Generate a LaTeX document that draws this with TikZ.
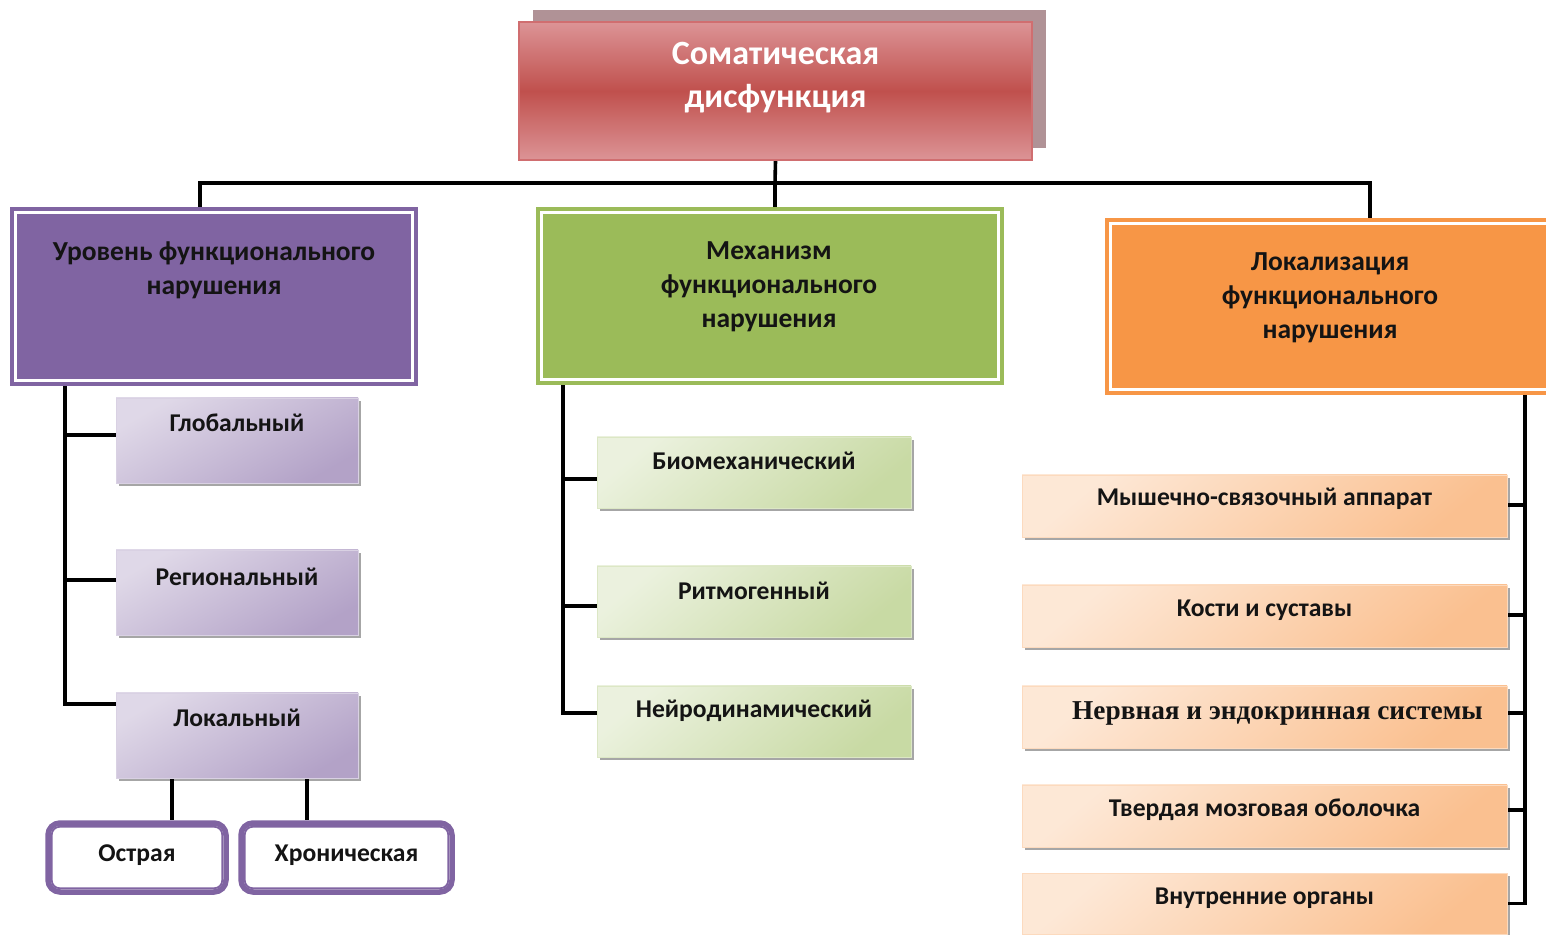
\documentclass[tikz,border=0pt]{standalone}
\usepackage{fontspec}
\setmainfont{Carlito}
\newfontfamily\tms{Liberation Serif}
\usetikzlibrary{shadows,backgrounds}
\definecolor{hpurple}{HTML}{8064A2}
\definecolor{hgreen}{HTML}{9BBB59}
\definecolor{horange}{HTML}{F79646}
\definecolor{redmid}{HTML}{C0504D}
\definecolor{redlight}{HTML}{DC9496}
\definecolor{redline}{HTML}{D06E70}
\definecolor{backbox}{HTML}{B09296}
\definecolor{txt}{HTML}{141414}
\begin{document}
\begin{tikzpicture}[x=1pt,y=1pt,
  conn/.style={draw=black, line width=3.6pt},
  backbx/.style={fill=backbox, inner sep=0pt},
  topbox/.style={top color=redlight, bottom color=redlight, middle color=redmid, draw=redline, line width=1.5pt, inner sep=0pt},
  toptxt/.style={text=white, font=\bfseries\fontsize{34}{43}\selectfont, align=center},
  hdr/.style={double=white, double distance=2.5pt, line width=4pt, inner sep=0pt},
  hdrtxt/.style={text=txt, font=\bfseries\fontsize{27.5}{34}\selectfont, align=center},
  sub/.style={inner sep=0pt, line width=0.8pt, drop shadow={shadow xshift=2.5pt, shadow yshift=-3pt, fill=black, opacity=0.35}},
  psub/.style={sub, top color=white!75!hpurple, bottom color=white!40!hpurple, shading angle=30, draw=white!70!hpurple, minimum width=242pt, minimum height=85pt},
  gsub/.style={sub, top color=white!80!hgreen, bottom color=white!45!hgreen, shading angle=40, draw=white!65!hgreen, minimum width=314pt, minimum height=71pt},
  osub/.style={sub, top color=white!78!horange, bottom color=white!40!horange, shading angle=40, draw=white!65!horange, minimum width=485pt, minimum height=62pt},
  subtxt/.style={text=txt, font=\bfseries\fontsize{25.6}{30}\selectfont},
  leaf/.style={draw=hpurple, line width=5.5pt, rounded corners=12pt, fill=white, inner sep=0pt, minimum height=69pt}
]
\useasboundingbox (0,0) rectangle (1546,934);

% top
\node[backbx, minimum width=513pt, minimum height=138pt] (topsh) at (789.5,855) {};
\node[topbox, minimum width=513pt, minimum height=138pt] (top) at (775.5,843) {};
\node[toptxt] (top-t) at ([yshift=13.5pt]top.center) {Соматическая\\дисфункция};

% headers
\node[hdr, draw=hpurple, fill=hpurple, minimum width=397pt, minimum height=168pt] (lev) at (214,637.5) {};
\node[hdrtxt] (lev-t) at (214,664) {Уровень функционального\\нарушения};
\node[hdr, draw=hgreen, fill=hgreen, minimum width=457pt, minimum height=167pt] (grn) at (770,638) {};
\node[hdrtxt] (grn-t) at (769,647) {Механизм\\функционального\\нарушения};
\node[hdr, draw=horange, fill=horange, minimum width=444pt, minimum height=166pt] (org) at (1332.5,627.5) {};
\node[hdrtxt] (org-t) at (1330,636.5) {Локализация\\функционального\\нарушения};

% purple sub
\node[psub] (glob) at (237,493.5) {};
\node[subtxt] (glob-t) at ([yshift=17.5pt]glob.center) {Глобальный};
\node[psub] (reg) at (237,341.5) {};
\node[subtxt] (reg-t) at ([yshift=15.5pt]reg.center) {Региональный};
\node[psub] (loc) at (237,198.5) {};
\node[subtxt] (loc-t) at ([yshift=17.5pt]loc.center) {Локальный};

% leaves
\node[leaf, minimum width=178pt] (ostr) at (137,76.5) {};
\node[subtxt] (ostr-t) at ([yshift=2.5pt]ostr.center) {Острая};
\node[leaf, minimum width=211pt] (chr) at (346.5,76.5) {};
\node[subtxt] (chr-t) at ([yshift=2.5pt]chr.center) {Хроническая};
\draw[hpurple, line width=1.8pt, rounded corners=8pt] ([shift={(6.5,-6.5)}]ostr.north west) rectangle ([shift={(-6.5,6.5)}]ostr.south east);
\draw[hpurple, line width=1.8pt, rounded corners=8pt] ([shift={(6.5,-6.5)}]chr.north west) rectangle ([shift={(-6.5,6.5)}]chr.south east);

% green sub
\node[gsub] (bio) at (754,461.5) {};
\node[subtxt] (bio-t) at ([yshift=11.5pt]bio.center) {Биомеханический};
\node[gsub] (rit) at (754,332.5) {};
\node[subtxt] (rit-t) at ([yshift=10.5pt]rit.center) {Ритмогенный};
\node[gsub] (neu) at (754,212.5) {};
\node[subtxt] (neu-t) at ([yshift=10.5pt]neu.center) {Нейродинамический};

% orange sub
\node[osub] (o1) at (1264.5,428) {};
\node[subtxt] (o1-t) at ([yshift=7pt]o1.center) {Мышечно-связочный аппарат};
\node[osub] (o2) at (1264.5,318) {};
\node[subtxt] (o2-t) at ([yshift=6pt]o2.center) {Кости и суставы};
\node[osub] (o3) at (1264.5,217) {};
\node[text=txt, font=\tms\bfseries\fontsize{27.3}{32}\selectfont] (o3-t) at ([xshift=13pt,yshift=4pt]o3.center) {Нервная и эндокринная системы};
\node[osub] (o4) at (1264.5,118) {};
\node[subtxt] (o4-t) at ([yshift=6pt]o4.center) {Твердая мозговая оболочка};
\node[osub, minimum height=61pt] (o5) at (1264.5,30.5) {};
\node[subtxt] (o5-t) at ([yshift=5.5pt]o5.center) {Внутренние органы};

% connectors
\begin{scope}[on background layer]
\coordinate (bus) at (775,751);
\coordinate (dl) at ([xshift=-14pt]lev.north);
\coordinate (dr) at ([xshift=37.5pt]org.north);
\coordinate (dm) at ([xshift=5pt]grn.north);
\draw[conn] (top.south) -- (bus) -- (dm);
\draw[conn] (dl) |- (bus -| dr) -- (dr);

\coordinate (lvx) at (65,0);
\coordinate (g1) at ([yshift=5.5pt]glob.west);
\coordinate (g2) at ([yshift=12.5pt]reg.west);
\coordinate (g3) at ([yshift=31.5pt]loc.west);
\draw[conn] (lev.south -| lvx) |- (g3);
\draw[conn] (lvx |- g1) -- (g1);
\draw[conn] (lvx |- g2) -- (g2);

\coordinate (c1) at ([xshift=35pt]ostr.north);
\coordinate (c2) at ([xshift=-39.5pt]chr.north);
\draw[conn] (loc.south -| c1) -- (c1);
\draw[conn] (loc.south -| c2) -- (c2);

\coordinate (gvx) at (563,0);
\coordinate (b1) at ([yshift=-6.5pt]bio.west);
\coordinate (b2) at ([yshift=-4.5pt]rit.west);
\coordinate (b3) at ([yshift=8.5pt]neu.west);
\draw[conn] (grn.south -| gvx) |- (b3);
\draw[conn] (gvx |- b1) -- (b1);
\draw[conn] (gvx |- b2) -- (b2);

\coordinate (ovx) at (1525,0);
\coordinate (r1) at ([yshift=1pt]o1.east);
\coordinate (r2) at ([yshift=1pt]o2.east);
\coordinate (r3) at ([yshift=4pt]o3.east);
\coordinate (r4) at ([yshift=6pt]o4.east);
\coordinate (r5) at (o5.east);
\draw[conn] (org.south -| ovx) |- (r5);
\draw[conn] (ovx |- r1) -- (r1);
\draw[conn] (ovx |- r2) -- (r2);
\draw[conn] (ovx |- r3) -- (r3);
\draw[conn] (ovx |- r4) -- (r4);
\end{scope}
\end{tikzpicture}
\end{document}
